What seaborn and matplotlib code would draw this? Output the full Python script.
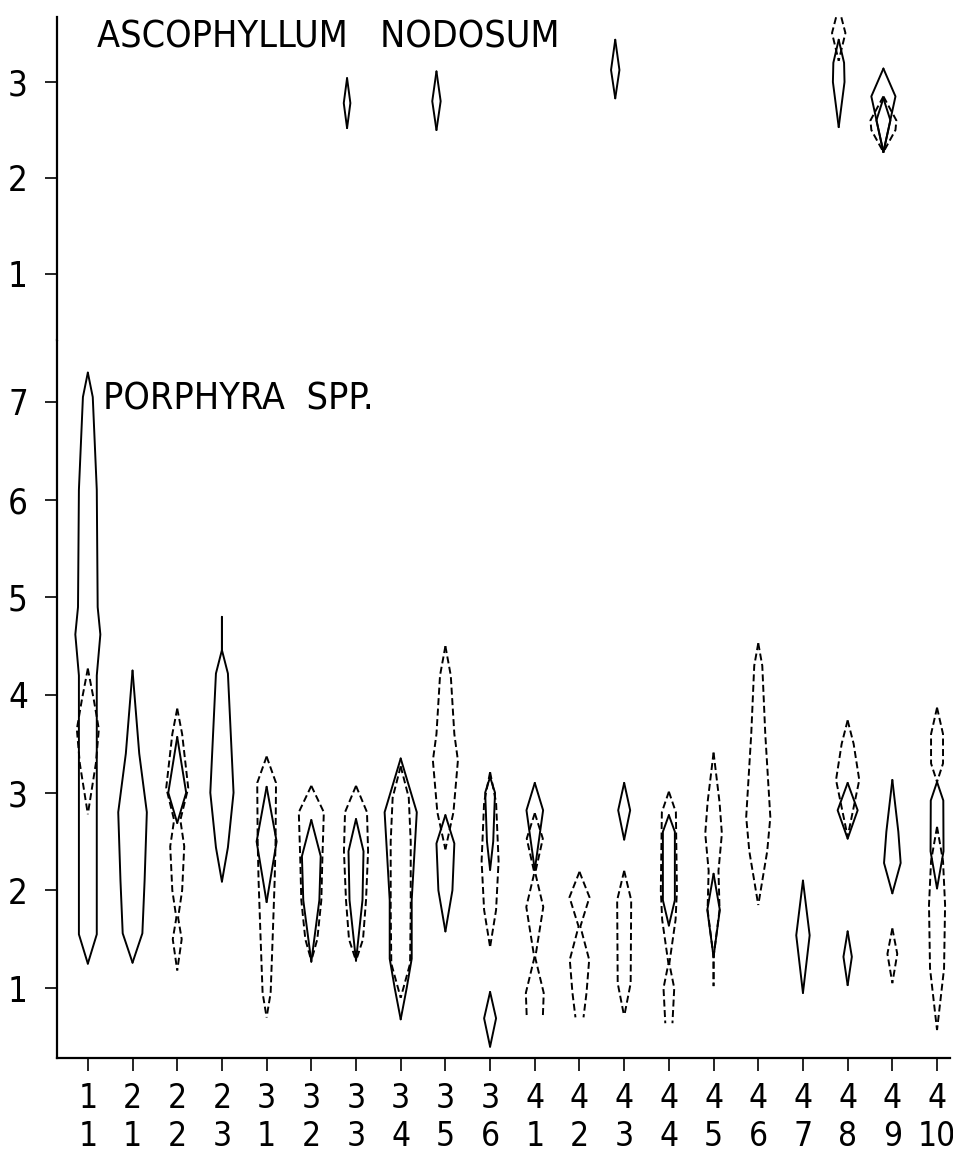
import matplotlib
matplotlib.use("Agg")
import matplotlib.pyplot as plt
import pandas as pd
import seaborn as sns

# ---------------- data ----------------
# x categories (two-line labels: upper / lower number)
x_upper = ["1", "2", "2", "2", "3", "3", "3", "3", "3", "3",
           "4", "4", "4", "4", "4", "4", "4", "4", "4", "4"]
x_lower = ["1", "1", "2", "3", "1", "2", "3", "4", "5", "6",
           "1", "2", "3", "4", "5", "6", "7", "8", "9", "10"]

# kite profiles: (category index, [(value, half-width), ...]) from top to bottom
porphyra_solid = [
    (0, [(7.30, 0), (7.05, 0.11), (6.1, 0.20), (4.9, 0.22), (4.62, 0.28), (4.2, 0.20), (1.55, 0.20), (1.25, 0)]),
    (1, [(4.25, 0), (3.4, 0.15), (2.8, 0.32), (2.1, 0.27), (1.56, 0.22), (1.26, 0)]),
    (2, [(3.57, 0), (3.0, 0.20), (2.69, 0)]),
    (3, [(4.80, 0), (4.46, 0), (4.22, 0.134), (3.0, 0.26), (2.44, 0.134), (2.09, 0)]),
    (4, [(3.06, 0), (2.5, 0.224), (1.88, 0)]),
    (5, [(2.72, 0), (2.35, 0.21), (1.9, 0.18), (1.27, 0)]),
    (6, [(2.73, 0), (2.4, 0.168), (1.9, 0.145), (1.28, 0)]),
    (7, [(3.35, 0), (2.8, 0.36), (1.9, 0.246), (1.3, 0.246), (1.0, 0.134), (0.68, 0)]),
    (8, [(2.77, 0), (2.48, 0.20), (2.0, 0.157), (1.58, 0)]),
    (9, [(3.16, 0), (3.0, 0.11), (2.5, 0.07), (2.21, 0)]),
    (9, [(0.96, 0), (0.69, 0.134), (0.40, 0)]),
    (10, [(3.10, 0), (2.82, 0.186), (2.21, 0)]),
    (12, [(3.10, 0), (2.82, 0.134), (2.52, 0)]),
    (13, [(2.77, 0), (2.6, 0.134), (1.9, 0.134), (1.64, 0)]),
    (14, [(2.17, 0), (1.80, 0.14), (1.32, 0)]),
    (16, [(2.10, 0), (1.54, 0.15), (0.95, 0)]),
    (17, [(3.10, 0), (2.82, 0.224), (2.53, 0)]),
    (17, [(1.58, 0), (1.32, 0.094), (1.03, 0)]),
    (18, [(3.13, 0), (2.6, 0.134), (2.28, 0.186), (1.97, 0)]),
    (19, [(3.11, 0), (2.92, 0.14), (2.4, 0.145), (2.02, 0)]),
]

porphyra_dashed = [
    (0, [(4.27, 0), (3.95, 0.134), (3.65, 0.246), (3.3, 0.18), (2.78, 0)]),
    (2, [(3.86, 0), (3.6, 0.11), (3.05, 0.246), (2.72, 0.07), (2.45, 0.157), (2.0, 0.11),
         (1.72, 0.02), (1.5, 0.10), (1.18, 0)]),
    (4, [(3.37, 0), (3.1, 0.21), (2.5, 0.20), (2.1, 0.18), (1.5, 0.134), (0.95, 0.09), (0.70, 0)]),
    (5, [(3.07, 0), (2.8, 0.28), (2.3, 0.246), (1.9, 0.224), (1.5, 0.134), (1.28, 0)]),
    (6, [(3.07, 0), (2.8, 0.246), (2.4, 0.27), (1.9, 0.224), (1.5, 0.157), (1.28, 0)]),
    (7, [(3.27, 0), (2.95, 0.18), (2.5, 0.224), (1.8, 0.224), (1.25, 0.21), (0.9, 0)]),
    (8, [(4.50, 0), (4.2, 0.12), (3.6, 0.20), (3.33, 0.28), (2.8, 0.18), (2.42, 0)]),
    (9, [(3.21, 0), (2.9, 0.134), (2.3, 0.19), (1.8, 0.134), (1.42, 0)]),
    (10, [(2.79, 0), (2.53, 0.18), (2.18, 0.01), (1.83, 0.19), (1.31, 0.01), (0.95, 0.20), (0.70, 0.18)]),
    (11, [(2.19, 0), (1.93, 0.224), (1.63, 0.02), (1.29, 0.217), (0.95, 0.157), (0.70, 0.09)]),
    (12, [(2.20, 0), (1.9, 0.157), (1.05, 0.145), (0.71, 0)]),
    (13, [(3.01, 0), (2.8, 0.157), (2.0, 0.18), (1.7, 0.15), (1.25, 0.01), (1.0, 0.12), (0.64, 0.08)]),
    (14, [(3.41, 0), (2.9, 0.134), (2.58, 0.186), (2.2, 0.11), (1.8, 0.134), (1.32, 0), (1.02, 0)]),
    (15, [(4.53, 0), (4.3, 0.09), (3.6, 0.157), (2.75, 0.27), (2.4, 0.20), (1.85, 0)]),
    (17, [(3.74, 0), (3.5, 0.134), (3.13, 0.26), (2.55, 0)]),
    (18, [(1.61, 0), (1.35, 0.11), (1.05, 0)]),
    (19, [(3.87, 0), (3.6, 0.134), (3.3, 0.134), (3.11, 0)]),
    (19, [(2.65, 0), (2.3, 0.134), (1.85, 0.18), (1.2, 0.157), (0.57, 0)]),
]

asco_solid = [
    (6, [(3.04, 0), (2.78, 0.074), (2.52, 0)]),
    (8, [(3.11, 0), (2.80, 0.094), (2.50, 0)]),
    (12, [(3.44, 0), (3.125, 0.094), (2.83, 0)]),
    (17, [(3.44, 0), (3.2, 0.12), (3.0, 0.13), (2.53, 0)]),
    (18, [(3.14, 0), (2.85, 0.27), (2.27, 0)]),
    (18, [(2.83, 0), (2.6, 0.157), (2.27, 0)]),
]

asco_dashed = [
    (17, [(3.78, 0), (3.51, 0.15), (3.22, 0)]),
    (18, [(2.85, 0), (2.6, 0.29), (2.5, 0.27), (2.27, 0)]),
]

porphyra_ticks = [1, 2, 3, 4, 5, 6, 7]
asco_ticks = [1, 2, 3]


def kite_frame(solid, dashed):
    rows = []
    for kind, shapes in (("solid", solid), ("dashed", dashed)):
        for k, (cat, prof) in enumerate(shapes):
            for side, sgn in (("r", 1), ("l", -1)):
                pid = f"{kind}-{k}-{side}"
                for y, hw in prof:
                    rows.append({"x": cat + sgn * hw, "y": y, "path": pid, "kind": kind})
    return pd.DataFrame(rows)


# ---------------- style ----------------
sns.set_theme(style="ticks")
plt.rcParams["font.family"] = ["DejaVu Sans"]
plt.rcParams["font.stretch"] = "condensed"
plt.rcParams["axes.linewidth"] = 1.6

W, H = 954, 1167
fig = plt.figure(figsize=(W / 100, H / 100), dpi=100)
fig.patch.set_facecolor("white")

left_px, right_px = 57, 950
bot_px, mid_px, top_px = 1058, 340, 17
ax_bot = fig.add_axes([left_px / W, 1 - bot_px / H, (right_px - left_px) / W, (bot_px - mid_px) / H])
ax_top = fig.add_axes([left_px / W, 1 - mid_px / H, (right_px - left_px) / W, (mid_px - top_px) / H])

dash_map = {"solid": "", "dashed": (3.6, 1.8)}

for ax, solid, dashed in ((ax_bot, porphyra_solid, porphyra_dashed),
                          (ax_top, asco_solid, asco_dashed)):
    df = kite_frame(solid, dashed)
    sns.lineplot(data=df, x="x", y="y", units="path", estimator=None, sort=False,
                 style="kind", dashes=dash_map, color="black", linewidth=1.4,
                 legend=False, ax=ax)
    ax.set_facecolor("white")
    ax.set_xlabel("")
    ax.set_ylabel("")
    for s in ("top", "right"):
        ax.spines[s].set_visible(False)
    for s in ("left", "bottom"):
        ax.spines[s].set_color("black")

# bottom axes (Porphyra)
ax_bot.set_xlim(-0.69, 19.29)
ax_bot.set_ylim(0.284, 7.634)
ax_bot.set_yticks(porphyra_ticks)
ax_bot.set_yticklabels([str(t) for t in porphyra_ticks])
ax_bot.set_xticks(range(len(x_upper)))
ax_bot.set_xticklabels([f"{u}\n{l}" for u, l in zip(x_upper, x_lower)])
ax_bot.tick_params(axis="x", length=9, width=1.2, pad=8, labelsize=24, colors="black")
ax_bot.tick_params(axis="y", length=9, width=1.2, pad=12, labelsize=25, colors="black")

# top axes (Ascophyllum) - drawn slightly offset as in original
ax_top.set_xlim(-0.69 + 0.2, 19.29 + 0.2)
ax_top.set_ylim(0.3125, 3.677)
ax_top.set_yticks(asco_ticks)
ax_top.set_yticklabels([str(t) for t in asco_ticks])
ax_top.set_xticks([])
ax_top.spines["bottom"].set_visible(False)
ax_top.tick_params(axis="y", length=9, width=1.2, pad=12, labelsize=25, colors="black")

fig.text(97 / W, 1 - 38 / H, "ASCOPHYLLUM   NODOSUM", ha="left", va="center",
         fontsize=27, color="black")
fig.text(103 / W, 1 - 400 / H, "PORPHYRA  SPP.", ha="left", va="center",
         fontsize=27, color="black")

fig.savefig("out.png", dpi=100, facecolor="white")
